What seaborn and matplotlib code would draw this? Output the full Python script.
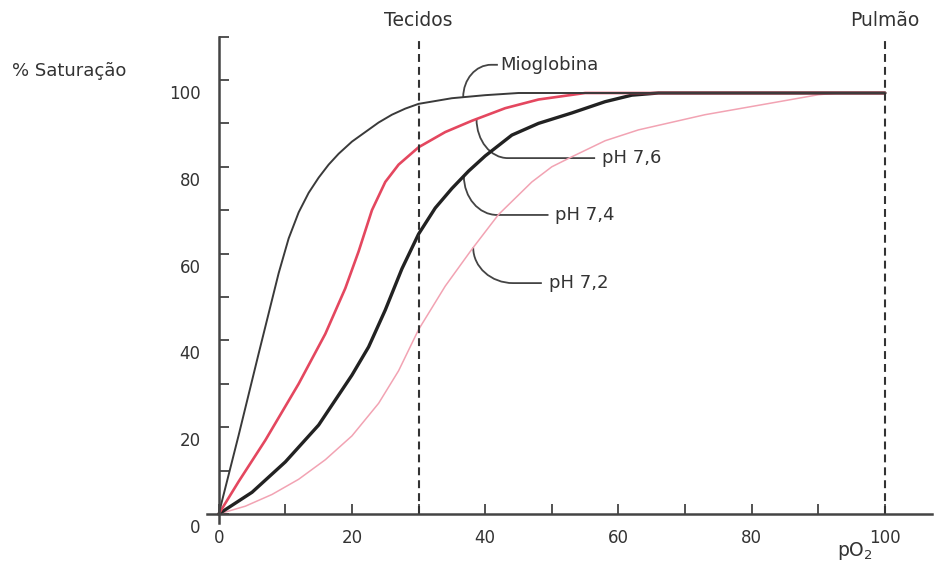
import matplotlib
matplotlib.use("Agg")
import numpy as np
import pandas as pd
import matplotlib.pyplot as plt
import seaborn as sns
from matplotlib.ticker import MultipleLocator, FixedLocator
from matplotlib.transforms import ScaledTranslation
from matplotlib.path import Path
from matplotlib.patches import PathPatch

# ---------------- data ----------------
po2_mb = [0, 3, 6, 9, 10.5, 12, 13.5, 15, 16.5, 18, 20, 22, 24, 26, 28, 30, 35, 40, 45, 50, 100]
sat_mb = [0, 18.2, 37, 55.5, 63.5, 69.5, 74, 77.5, 80.5, 83, 85.8, 88, 90.2, 92, 93.4, 94.5, 95.8, 96.5, 97, 97, 97]

po2_76 = [0, 3, 7, 12, 16, 19, 21, 23, 25, 27, 30, 34, 38, 43, 48, 55, 100]
sat_76 = [0, 7.5, 17, 30, 41.5, 52, 60.5, 70, 76.5, 80.5, 84.5, 88, 90.6, 93.5, 95.5, 97, 97]

po2_74 = [0, 5, 10, 15, 20, 22.5, 25, 27.5, 30, 32.5, 35, 37.5, 40, 44, 48, 53, 58, 62, 66, 100]
sat_74 = [0, 5, 12, 20.5, 32, 38.5, 47, 56.5, 64.5, 70.5, 75, 79, 82.5, 87.3, 90, 92.4, 95, 96.5, 97, 97]

po2_72 = [0, 4, 8, 12, 16, 20, 24, 27, 30, 34, 38, 42, 47, 50, 53, 58, 63, 73, 83, 90, 93, 100]
sat_72 = [0, 1.8, 4.5, 8, 12.5, 18, 25.5, 33, 42.5, 52.5, 61, 69, 76.5, 80, 82.3, 86, 88.5, 92, 94.7, 96.6, 97, 97]

curve_labels = ["Mioglobina", "pH 7,6", "pH 7,4", "pH 7,2"]
x_ticks = [0, 20, 40, 60, 80, 100]
x_tick_labels = ["0", "20", "40", "60", "80", "100"]
y_ticks = [0, 20, 40, 60, 80, 100]
y_tick_labels = ["0", "20", "40", "60", "80", "100"]
ref_lines = [30, 100]
ref_labels = ["Tecidos", "Pulmão"]
y_title = "% Saturação"

# ---------------- style ----------------
sns.set_theme(style="white")
plt.rcParams["font.family"] = ["DejaVu Sans"]
TXT = "#333333"
AX = "#444444"
FS_TICK = 12
FS = 13.5

fig = plt.figure(figsize=(9.37, 5.68), dpi=100)
ax = fig.add_axes([0.2192, 0.0798, 0.775, 0.8558])

series = [
    (po2_72, sat_72, "#f2a3b3", 1.1),
    (po2_74, sat_74, "#222222", 2.4),
    (po2_76, sat_76, "#e4475f", 1.9),
    (po2_mb, sat_mb, "#3a3a3a", 1.4),
]
for xs, ys, col, lw in series:
    df = pd.DataFrame({"pO2": xs, "sat": ys})
    sns.lineplot(data=df, x="pO2", y="sat", color=col, lw=lw, ax=ax,
                 estimator=None, sort=False)

# reference dashed lines
for xv, lab in zip(ref_lines, ref_labels):
    ax.plot([xv, xv], [0, 110], ls=(0, (3.8, 2.4)), lw=1.5, color="#333333",
            clip_on=False)
    ax.text(xv, 113.8, lab, ha="center", va="center", fontsize=FS,
            color=TXT, clip_on=False)

ax.set_xlim(-2, 107)
ax.set_ylim(-2, 110)
ax.set_xlabel("")
ax.set_ylabel("")

# spines
for s in ["top", "right"]:
    ax.spines[s].set_visible(False)
ax.spines["left"].set_position(("data", 0))
ax.spines["bottom"].set_position(("data", 0))
ax.spines["bottom"].set_bounds(-1.7, 107)
for s in ["left", "bottom"]:
    ax.spines[s].set_color(AX)
    ax.spines[s].set_linewidth(1.8)

# ticks
ax.xaxis.set_major_locator(FixedLocator(x_ticks))
ax.xaxis.set_minor_locator(MultipleLocator(10))
ax.yaxis.set_major_locator(FixedLocator(y_ticks))
ax.yaxis.set_minor_locator(MultipleLocator(10))
ax.set_xticklabels(x_tick_labels)
ax.set_yticklabels(y_tick_labels)
ax.tick_params(which="both", direction="in", length=7, width=1.3, color=AX,
               bottom=True, left=True, labelcolor=TXT, labelsize=FS_TICK)
ax.tick_params(axis="x", pad=11)
ax.tick_params(axis="y", pad=13)
off = ScaledTranslation(0, -0.12, fig.dpi_scale_trans)
for lbl in ax.get_yticklabels():
    lbl.set_transform(lbl.get_transform() + off)

# axis titles
fig.text(12 / 937, 1 - 71 / 568, y_title, ha="left", va="center",
         fontsize=FS - 0.5, color=TXT)
fig.text(855 / 937, 1 - 551 / 568, r"pO$_{\mathregular{2}}$", ha="center",
         va="center", fontsize=FS, color=TXT)

# leader labels: (series, anchor x, curve-end x, level y, line-end x, text x)
leaders = [
    (po2_mb, sat_mb, 36.7, 40.9, 103.5, 41.9, 42.3),
    (po2_76, sat_76, 38.7, 43.4, 82.0, 56.5, 57.5),
    (po2_74, sat_74, 36.8, 41.8, 68.9, 49.5, 50.5),
    (po2_72, sat_72, 38.2, 44.2, 53.2, 48.5, 49.6),
]
k = 0.5523
for lab, (xs, ys, xa, xe, yh, xl, xt) in zip(curve_labels, leaders):
    ya = float(np.interp(xa, xs, ys))
    verts = [(xa, ya),
             (xa, ya + k * (yh - ya)),
             (xe - k * (xe - xa), yh),
             (xe, yh),
             (xl, yh)]
    codes = [Path.MOVETO, Path.CURVE4, Path.CURVE4, Path.CURVE4, Path.LINETO]
    ax.add_patch(PathPatch(Path(verts, codes), fill=False, edgecolor=AX,
                           lw=1.3, clip_on=False))
    ax.text(xt, yh, lab, ha="left", va="center", fontsize=FS - 0.5,
            color=TXT)

fig.savefig("out.png", dpi=100, facecolor="white")
